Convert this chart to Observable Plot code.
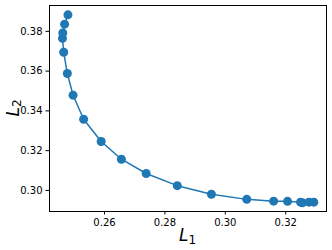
<!DOCTYPE html>
<html>
<head>
<meta charset="utf-8">
<script src="https://cdn.jsdelivr.net/npm/d3@7"></script>
<script src="https://cdn.jsdelivr.net/npm/@observablehq/plot@0.6"></script>
<style>
  html, body { margin: 0; padding: 0; background: #fff; }
</style>
</head>
<body>
<div id="chart"></div>
<script>
const L1 = [0.2479, 0.2468, 0.2462, 0.2461, 0.2465, 0.2477, 0.2496, 0.2531, 0.2589, 0.2656, 0.2738, 0.2841, 0.2954, 0.3071, 0.3160, 0.3206, 0.3249, 0.3255, 0.3277, 0.3293];
const L2 = [0.3883, 0.3836, 0.3792, 0.3765, 0.3695, 0.3588, 0.3479, 0.3358, 0.3246, 0.3157, 0.3085, 0.3024, 0.2981, 0.2955, 0.2946, 0.2945, 0.2941, 0.2938, 0.2941, 0.2941];
const xTicks = [0.26, 0.28, 0.30, 0.32];
const yTicks = [0.30, 0.32, 0.34, 0.36, 0.38];

const data = L1.map((v, i) => ({l1: v, l2: L2[i]}));

const W = 332, H = 250;
const mL = 49, mR = 6, mT = 5, mB = 39;

const chart = Plot.plot({
  width: W,
  height: H,
  marginLeft: mL,
  marginRight: mR,
  marginTop: mT,
  marginBottom: mB,
  style: {fontFamily: "DejaVu Sans", fontSize: "10px", color: "black", background: "white"},
  x: {domain: [0.2418, 0.3335], label: null},
  y: {domain: [0.2894, 0.393], label: null},
  marks: [
    Plot.axisX(xTicks, {tickSize: 3.5, tickPadding: 3.5, tickFormat: d3.format(".2f"), stroke: "black", fill: "black"}),
    Plot.axisY(yTicks, {tickSize: 3.5, tickPadding: 3.5, tickFormat: d3.format(".2f"), stroke: "black", fill: "black"}),
    Plot.line(data, {x: "l1", y: "l2", stroke: "#1f77b4", strokeWidth: 1.5}),
    Plot.dot(data, {x: "l1", y: "l2", r: 4.5, fill: "#1f77b4", stroke: "none"}),
    Plot.frame({stroke: "black", strokeWidth: 1})
  ]
});

document.getElementById("chart").appendChild(chart);

// Axis titles with subscripts (matplotlib mathtext style)
const svg = d3.select(chart);
const cx = (mL + (W - mR)) / 2;
const cy = (mT + (H - mB)) / 2;
const xl = svg.append("text")
  .attr("x", cx).attr("y", 241)
  .attr("text-anchor", "middle")
  .attr("font-family", "DejaVu Sans")
  .attr("font-size", 17)
  .attr("fill", "black");
xl.append("tspan").attr("font-style", "oblique").text("L");
xl.append("tspan").attr("font-size", 12).attr("dy", 2.5).text("1");

const yl = svg.append("text")
  .attr("transform", `translate(18.5,${cy}) rotate(-90)`)
  .attr("text-anchor", "middle")
  .attr("font-family", "DejaVu Sans")
  .attr("font-size", 17)
  .attr("fill", "black");
yl.append("tspan").attr("font-style", "oblique").text("L");
yl.append("tspan").attr("font-size", 12).attr("dy", 2.5).text("2");
</script>
</body>
</html>
